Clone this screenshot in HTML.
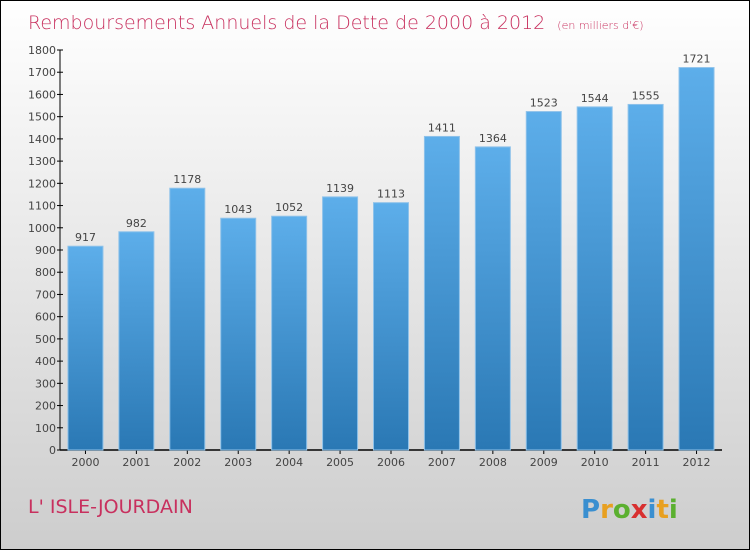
<!DOCTYPE html>
<html><head><meta charset="utf-8"><style>
body{margin:0;}
#wrap{position:relative;width:748px;height:548px;border:1px solid #000;background:linear-gradient(#ffffff,#cdcdcd);font-family:"DejaVu Sans","Liberation Sans",sans-serif;overflow:hidden}
</style></head><body>
<div id="wrap">
<svg width="748" height="548" style="position:absolute;left:0;top:0">
<defs><linearGradient id="bg" x1="0" y1="0" x2="0" y2="1"><stop offset="0" stop-color="#5daeea"/><stop offset="1" stop-color="#2a78b4"/></linearGradient></defs>
<text x="27" y="28" font-size="19" fill="#c8305e" font-weight="300">Remboursements Annuels de la Dette de 2000 à 2012 <tspan font-size="11" dx="6">(en milliers d'€)</tspan></text>
<g id="axes"></g><g id="bars"></g>
<text x="27" y="512" font-size="19" fill="#c8305e">L' ISLE-JOURDAIN</text>
<text x="580" y="517" font-size="26" font-weight="bold"><tspan fill="#3a8fd0">P</tspan><tspan fill="#e8a020">r</tspan><tspan fill="#5bb030">o</tspan><tspan fill="#d83030">x</tspan><tspan fill="#3a8fd0">i</tspan><tspan fill="#e8a020">t</tspan><tspan fill="#5bb030">i</tspan></text>
</svg></div>
<script>
const categories=["2000","2001","2002","2003","2004","2005","2006","2007","2008","2009","2010","2011","2012"];
const values=[917,982,1178,1043,1052,1139,1113,1411,1364,1523,1544,1555,1721];
const yTicks=[0,100,200,300,400,500,600,700,800,900,1000,1100,1200,1300,1400,1500,1600,1700,1800];
const NS="http://www.w3.org/2000/svg";
const x0=59,x1=721,y0=449,y1=49,yMax=1800;
const band=(x1-x0)/categories.length;
function y(v){return y0-(v/yMax)*(y0-y1);}
function xc(i){return x0+band*(i+0.5);}
function mk(t,a,p,txt){const e=document.createElementNS(NS,t);for(const k in a)e.setAttribute(k,a[k]);if(txt!==undefined)e.textContent=txt;p.appendChild(e);return e;}
const ax=document.getElementById('axes'),bs=document.getElementById('bars');
let l=mk('line',{x1:x0,y1:y1,x2:x0,y2:y0,stroke:'#000'},ax);

l=mk('line',{x1:x0,y1:y0,x2:x1,y2:y0,stroke:'#000','stroke-width':1.5},ax);

yTicks.forEach(v=>{
 mk('line',{x1:x0-3,x2:x0+3,y1:y(v),y2:y(v),stroke:'#000'},ax);
 const t=mk('text',{x:x0-4,y:y(v)+4,'font-size':11,fill:'#444','text-anchor':'end'},ax,String(v));
 
 
});
categories.forEach((c,i)=>{
 const r=mk('rect',{x:xc(i)-17.5,y:y(values[i]),width:35,height:y0-y(values[i]),fill:'url(#bg)',stroke:'#8ec2ea','stroke-width':1},bs);
 
 
 const v=mk('text',{x:xc(i),y:y(values[i])-5,'font-size':11,fill:'#444','text-anchor':'middle'},bs,String(values[i]));
 
 
 mk('line',{x1:xc(i),x2:xc(i),y1:y0,y2:y0+4,stroke:'#000'},ax);
 const t=mk('text',{x:xc(i),y:y0+16,'font-size':11,fill:'#444','text-anchor':'middle'},ax,c);
 
 
});
</script></body></html>
